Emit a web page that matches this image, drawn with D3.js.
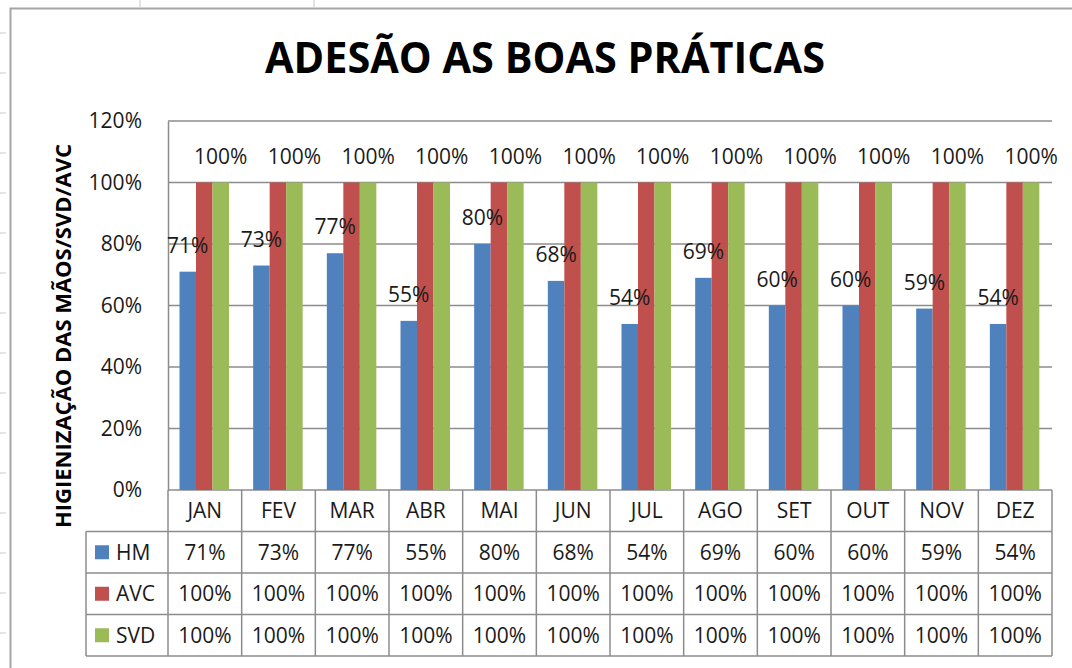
<!DOCTYPE html>
<html>
<head>
<meta charset="utf-8">
<script src="https://cdn.jsdelivr.net/npm/d3@7"></script>
<style>
  body { margin: 0; background: #fff; }
  svg { display: block; font-family: "Open Sans", sans-serif; }
</style>
</head>
<body>
<svg id="chart" width="1072" height="668"></svg>
<script>
// data
const months = ["JAN", "FEV", "MAR", "ABR", "MAI", "JUN", "JUL", "AGO", "SET", "OUT", "NOV", "DEZ"];
const seriesNames = ["HM", "AVC", "SVD"];
const hmValues = [0.71, 0.73, 0.77, 0.55, 0.80, 0.68, 0.54, 0.69, 0.60, 0.60, 0.59, 0.54];
const avcValues = [1, 1, 1, 1, 1, 1, 1, 1, 1, 1, 1, 1];
const svdValues = [1, 1, 1, 1, 1, 1, 1, 1, 1, 1, 1, 1];
const yTicks = [0, 0.2, 0.4, 0.6, 0.8, 1.0, 1.2];
const seriesColors = ["#4F81BD", "#C0504D", "#9BBB59"];

const svg = d3.select("#chart");
const pct = d3.format(".0%");

const plot = { left: 168, right: 1052, top: 121, bottom: 490 };
const rowH = 41.5;
const fs = "21px";

const values = { HM: hmValues, AVC: avcValues, SVD: svdValues };
const rows = seriesNames.map((s, i) => ({ name: s, color: seriesColors[i], values: values[s] }));

const x = d3.scaleBand().domain(months).range([plot.left, plot.right]);
const xs = d3.scaleBand().domain(seriesNames).range([11.5, 61]);
const y = d3.scaleLinear().domain([0, 1.2]).range([plot.bottom, plot.top]);

// spreadsheet background bits around the chart object
svg.append("g")
    .selectAll("line")
    .data(d3.range(33, 668, 40))
    .join("line")
    .attr("x1", 0).attr("x2", 6)
    .attr("y1", d => d).attr("y2", d => d)
    .attr("stroke", "#c8c8c8");
svg.append("g")
    .selectAll("line")
    .data([140, 314])
    .join("line")
    .attr("x1", d => d).attr("x2", d => d)
    .attr("y1", 0).attr("y2", 7)
    .attr("stroke", "#c8c8c8");

// chart frame
svg.append("path")
    .attr("d", "M10.5,668 V8.5 H1072")
    .attr("fill", "none")
    .attr("stroke", "#a6a6a6")
    .attr("stroke-width", 2);

// title
svg.append("text")
    .attr("x", 265)
    .attr("y", 73)
    .attr("textLength", 560)
    .attr("lengthAdjust", "spacingAndGlyphs")
    .style("font-size", "43px")
    .style("font-weight", "bold")
    .text("ADESÃO AS BOAS PRÁTICAS");

// gridlines
svg.append("g")
    .selectAll("line")
    .data(yTicks)
    .join("line")
    .attr("x1", plot.left).attr("x2", plot.right)
    .attr("y1", d => y(d)).attr("y2", d => y(d))
    .attr("stroke", "#8c8c8c")
    .attr("stroke-width", 1.5);

// y axis
const yAxis = svg.append("g")
    .attr("transform", `translate(${plot.left},0)`)
    .call(d3.axisLeft(y).tickValues(yTicks).tickFormat(pct).tickSize(0).tickPadding(26));
yAxis.select(".domain").attr("stroke", "#8c8c8c").attr("stroke-width", 1.5);
yAxis.selectAll("text")
    .style("font-family", "Open Sans")
    .style("font-size", fs)
    .attr("fill", "#1a1a1a");

svg.append("text")
    .attr("transform", "translate(71,336) rotate(-90)")
    .attr("text-anchor", "middle")
    .attr("textLength", 384)
    .attr("lengthAdjust", "spacingAndGlyphs")
    .style("font-size", "22px")
    .style("font-weight", "bold")
    .text("HIGIENIZAÇÃO  DAS  MÃOS/SVD/AVC");

// bars
const groups = svg.append("g")
    .selectAll("g")
    .data(rows)
    .join("g")
    .attr("fill", d => d.color);

groups.selectAll("rect")
    .data(r => r.values.map((v, i) => ({ series: r.name, month: months[i], value: v })))
    .join("rect")
    .attr("x", d => x(d.month) + xs(d.series))
    .attr("y", d => y(d.value))
    .attr("width", xs.bandwidth())
    .attr("height", d => y(0) - y(d.value));

// data labels (HM and SVD visible; AVC sits underneath SVD)
const labelRows = rows.filter(r => r.name !== "AVC");
svg.append("g")
    .selectAll("g")
    .data(labelRows)
    .join("g")
    .selectAll("text")
    .data(r => r.values.map((v, i) => ({ series: r.name, month: months[i], value: v })))
    .join("text")
    .attr("x", d => x(d.month) + xs(d.series) + xs.bandwidth() / 2)
    .attr("y", d => y(d.value) - 19)
    .attr("text-anchor", "middle")
    .style("font-size", fs)
    .attr("fill", "#1a1a1a")
    .text(d => pct(d.value));

// data table
const table = svg.append("g");
const tableTop = plot.bottom;
const tableBottom = tableTop + rowH * 4;
const legendLeft = 86;

table.selectAll(".hline")
    .data(d3.range(1, 5))
    .join("line")
    .attr("class", "hline")
    .attr("x1", legendLeft).attr("x2", plot.right)
    .attr("y1", i => tableTop + i * rowH).attr("y2", i => tableTop + i * rowH)
    .attr("stroke", "#8c8c8c").attr("stroke-width", 1.5);

table.selectAll(".vline")
    .data(months.map(m => x(m)).concat([plot.right]))
    .join("line")
    .attr("class", "vline")
    .attr("x1", d => d).attr("x2", d => d)
    .attr("y1", tableTop).attr("y2", tableBottom)
    .attr("stroke", "#8c8c8c").attr("stroke-width", 1.5);

table.append("line")
    .attr("x1", legendLeft).attr("x2", legendLeft)
    .attr("y1", tableTop + rowH).attr("y2", tableBottom)
    .attr("stroke", "#8c8c8c").attr("stroke-width", 1.5);

table.selectAll(".month")
    .data(months)
    .join("text")
    .attr("class", "month")
    .attr("x", d => x(d) + x.bandwidth() / 2)
    .attr("y", tableTop + rowH / 2)
    .attr("dy", "0.35em")
    .attr("text-anchor", "middle")
    .style("font-size", fs)
    .attr("fill", "#1a1a1a")
    .text(d => d);

const tableRows = table.selectAll(".row")
    .data(rows)
    .join("g")
    .attr("class", "row")
    .attr("transform", (d, i) => `translate(0,${tableTop + (i + 1) * rowH + rowH / 2})`);

tableRows.append("rect")
    .attr("x", 95).attr("y", -7)
    .attr("width", 14).attr("height", 14)
    .attr("fill", d => d.color);

tableRows.append("text")
    .attr("x", 116)
    .attr("dy", "0.35em")
    .style("font-size", fs)
    .attr("fill", "#1a1a1a")
    .text(d => d.name);

tableRows.selectAll(".cell")
    .data(d => d.values.map((v, i) => ({ month: months[i], value: v })))
    .join("text")
    .attr("class", "cell")
    .attr("x", d => x(d.month) + x.bandwidth() / 2)
    .attr("dy", "0.35em")
    .attr("text-anchor", "middle")
    .style("font-size", fs)
    .attr("fill", "#1a1a1a")
    .text(d => pct(d.value));
</script>
</body>
</html>
